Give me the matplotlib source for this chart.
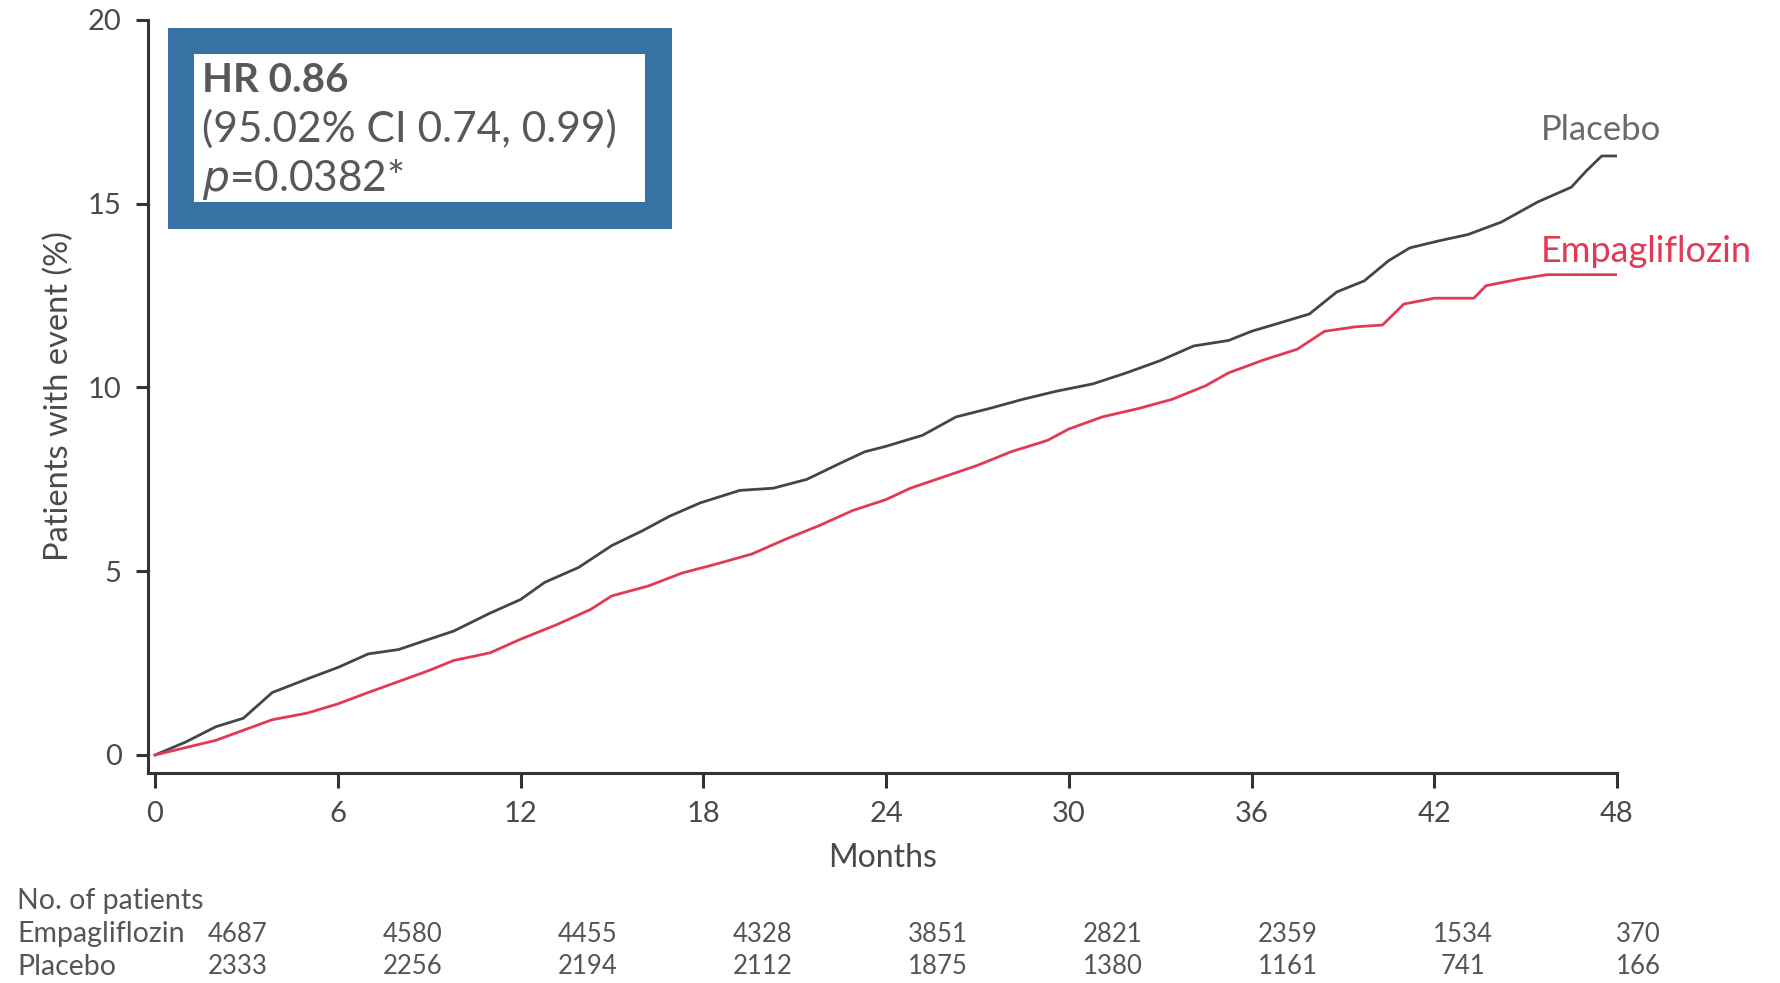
import matplotlib
matplotlib.use("Agg")
import matplotlib.pyplot as plt
from matplotlib.patches import Rectangle

plt.rcParams['font.family'] = ['Lato', 'DejaVu Sans']

# Cumulative incidence (% of patients with event) over follow-up
months_pbo = [0, 1.0, 2.0, 2.9, 3.85, 5.0, 6.0, 7.0, 8.0, 9.0, 9.8, 11.0, 12.0, 12.8,
              13.9, 15.0, 16.0, 16.9, 17.9, 19.2, 20.3, 21.4, 22.5, 23.3, 24.0, 25.2,
              26.3, 27.4, 28.5, 29.6, 30.8, 31.9, 33.0, 34.1, 35.25, 36.0, 36.9, 37.9,
              38.8, 39.7, 40.5, 41.2, 42.2, 43.1, 44.2, 45.4, 46.5, 47.0, 47.5, 48.0]
event_pbo = [0, 0.35, 0.77, 1.0, 1.7, 2.07, 2.38, 2.75, 2.87, 3.15, 3.37, 3.86, 4.23, 4.7,
             5.1, 5.7, 6.1, 6.5, 6.86, 7.2, 7.26, 7.5, 7.94, 8.25, 8.4, 8.7,
             9.2, 9.43, 9.68, 9.9, 10.1, 10.4, 10.73, 11.13, 11.28, 11.53, 11.75, 12.0,
             12.6, 12.9, 13.45, 13.8, 14.0, 14.16, 14.5, 15.05, 15.45, 15.9, 16.3, 16.3]

months_empa = [0, 1.0, 2.0, 3.85, 5.0, 6.0, 7.0, 8.0, 9.0, 9.8, 11.0, 12.0, 13.2, 14.3,
               15.0, 16.2, 17.3, 18.4, 19.6, 20.7, 21.8, 22.9, 24.0, 24.8, 25.9, 27.0,
               28.1, 29.3, 30.0, 31.1, 32.3, 33.4, 34.5, 35.25, 36.4, 37.5, 38.4, 39.4,
               40.3, 41.0, 42.0, 43.3, 43.7, 44.8, 45.7, 48.0]
event_empa = [0, 0.2, 0.4, 0.96, 1.14, 1.39, 1.7, 2.0, 2.3, 2.57, 2.78, 3.15, 3.55, 3.96,
              4.33, 4.6, 4.95, 5.19, 5.47, 5.87, 6.24, 6.65, 6.95, 7.26, 7.57, 7.88,
              8.25, 8.56, 8.87, 9.2, 9.43, 9.68, 10.05, 10.4, 10.75, 11.04, 11.53, 11.65,
              11.7, 12.27, 12.43, 12.43, 12.77, 12.95, 13.07, 13.07]

# numbers at risk
risk_months = [0, 6, 12, 18, 24, 30, 36, 42, 48]
risk_empa = [4687, 4580, 4455, 4328, 3851, 2821, 2359, 1534, 370]
risk_pbo = [2333, 2256, 2194, 2112, 1875, 1380, 1161, 741, 166]

hr_lines = ["HR 0.86", "(95.02% CI 0.74, 0.99)", "$p$=0.0382*"]

W, H = 1781, 983
fx = lambda px: px / W
fy = lambda py: 1 - py / H

text_grey = '#585858'
axis_col = '#333333'
pbo_col = '#404844'
empa_col = '#e23a54'
box_blue = '#3871a4'

fig = plt.figure(figsize=(W / 100, H / 100), dpi=100)
ax = fig.add_axes([fx(148), fy(773), fx(1617) - fx(148), fy(20) - fy(773)])

ax.plot(months_pbo, event_pbo, color=pbo_col, lw=2.0)
ax.plot(months_empa, event_empa, color=empa_col, lw=2.0)

ax.set_xlim(-0.23, 48)
ax.set_ylim(-0.49, 20)
ax.spines['top'].set_visible(False)
ax.spines['right'].set_visible(False)
for s in ('left', 'bottom'):
    ax.spines[s].set_linewidth(2.2)
    ax.spines[s].set_color(axis_col)
ax.set_xticks(risk_months)
ax.set_yticks([0, 5, 10, 15, 20])
ax.tick_params(axis='both', width=2.2, color=axis_col, labelsize=21, labelcolor='#4a4a4a')
ax.tick_params(axis='x', length=11, pad=9)
ax.tick_params(axis='y', length=9, pad=10)

ax.set_xlabel("Months", fontsize=23, color='#4a4a4a', labelpad=12)
ax.set_ylabel("Patients with event (%)", fontsize=23.5, color='#4a4a4a', labelpad=10)

ax.text(45.5, 17.0, "Placebo", color='#6a6a6a', fontsize=25, ha='left', va='center')
ax.text(45.5, 13.7, "Empagliflozin", color=empa_col, fontsize=26, ha='left', va='center')

# hazard ratio box
fig.patches.append(Rectangle((fx(168), fy(229)), fx(672) - fx(168), fy(28) - fy(229),
                             transform=fig.transFigure, facecolor=box_blue, edgecolor='none', zorder=5))
fig.patches.append(Rectangle((fx(194), fy(202)), fx(645) - fx(194), fy(54) - fy(202),
                             transform=fig.transFigure, facecolor='white', edgecolor='none', zorder=6))
fig.text(fx(202), fy(81), hr_lines[0], fontsize=29, fontweight='bold', color=text_grey, va='center', zorder=7)
fig.text(fx(202), fy(129), hr_lines[1], fontsize=30.5, color=text_grey, va='center', zorder=7)
fig.text(fx(202), fy(179), hr_lines[2], fontsize=30.5, color=text_grey, va='center', zorder=7)

# risk table
fig.text(fx(17), fy(901), "No. of patients", fontsize=20.5, color='#555555', va='center')
fig.text(fx(17), fy(934), "Empagliflozin", fontsize=20.5, color='#555555', va='center')
fig.text(fx(17), fy(967), "Placebo", fontsize=20.5, color='#555555', va='center')
for i, (e, p) in enumerate(zip(risk_empa, risk_pbo)):
    x = fx(238 + 175 * i)
    fig.text(x, fy(934), str(e), fontsize=18.5, color='#555555', ha='center', va='center')
    fig.text(x, fy(967), str(p), fontsize=18.5, color='#555555', ha='center', va='center')

fig.savefig("out.png", dpi=100)
